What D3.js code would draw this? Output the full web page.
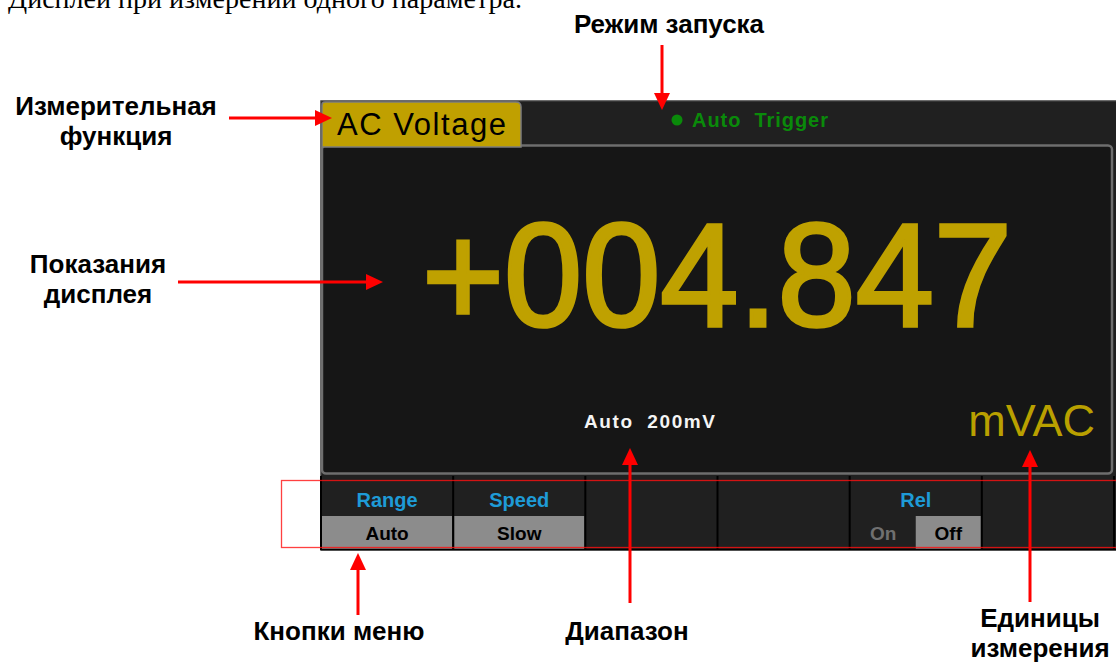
<!DOCTYPE html>
<html>
<head>
<meta charset="utf-8">
<script src="https://cdn.jsdelivr.net/npm/d3@7"></script>
<style>
  body { margin: 0; background: #fff; }
  svg { display: block; }
</style>
</head>
<body>
<script>
// texts shown on the meter screen
const caption = "Дисплей при измерении одного параметра.";
const functionName = "AC Voltage";
const triggerMode = "Auto  Trigger";
const reading = "+004.847";
const rangeText = "Auto  200mV";
const unitText = "mVAC";

// soft-key menu, one entry per button
const menuLabels = ["Range", "Speed", "", "", "Rel", ""];
const menuValues = [["Auto"], ["Slow"], [], [], ["On", "Off"], []];
const menuSelected = [0, 0, -1, -1, 1, -1];

// callouts around the screen
const calloutTexts = [
  ["Режим запуска"],
  ["Измерительная", "функция"],
  ["Показания", "дисплея"],
  ["Кнопки меню"],
  ["Диапазон"],
  ["Единицы", "измерения"]
];

// layout of the callouts (label centre, first baseline, arrow from -> to)
const calloutLayout = [
  { cx: 669, y: 33, from: [662, 45], to: [662, 110] },
  { cx: 116, y: 115, from: [229, 118], to: [332, 118] },
  { cx: 98, y: 273, from: [178, 282], to: [383, 282] },
  { cx: 339, y: 640, from: [358, 615], to: [358, 553] },
  { cx: 627, y: 640, from: [630, 603], to: [630, 448] },
  { cx: 1040, y: 627, from: [1030, 602], to: [1030, 450] }
];

const W = 1116, H = 664;
const gold = "#c0a000";
const sans = "'Liberation Sans', Arial, sans-serif";

const svg = d3.select("body").append("svg")
  .attr("width", W)
  .attr("height", H);

// caption cut off at the top
svg.append("text")
  .attr("x", 8)
  .attr("y", 8)
  .attr("font-family", "'Liberation Serif', 'Times New Roman', serif")
  .attr("font-size", 28)
  .attr("textLength", 514)
  .attr("lengthAdjust", "spacingAndGlyphs")
  .attr("fill", "#000")
  .text(caption);

// screen body
const screen = svg.append("g");
screen.append("rect")
  .attr("x", 321).attr("y", 101)
  .attr("width", W - 321 + 5).attr("height", 449)
  .attr("fill", "#202020")
  .attr("stroke", "#3c3c3c")
  .attr("stroke-width", 1.5);

// main display area
screen.append("rect")
  .attr("x", 322).attr("y", 145.5)
  .attr("width", 790).attr("height", 328)
  .attr("rx", 4)
  .attr("fill", "#161616")
  .attr("stroke", "#6e6e6e")
  .attr("stroke-width", 2.5);

// function tab
screen.append("path")
  .attr("d", "M322,147 L322,105 Q322,102 325,102 L516,102 Q521,102 521,107 L521,147 Z")
  .attr("fill", gold)
  .attr("stroke", "#7c7c7c")
  .attr("stroke-width", 1.5);

screen.append("text")
  .attr("x", 337).attr("y", 135)
  .attr("font-family", sans)
  .attr("font-size", 31)
  .attr("textLength", 169)
  .attr("fill", "#000")
  .text(functionName);

// trigger indicator
screen.append("circle")
  .attr("cx", 677).attr("cy", 120).attr("r", 5.5)
  .attr("fill", "#0a8a0a");
screen.append("text")
  .attr("x", 692).attr("y", 127)
  .attr("font-family", sans)
  .attr("font-weight", "bold")
  .attr("font-size", 20)
  .attr("textLength", 136)
  .attr("fill", "#0a8a0a")
  .style("white-space", "pre")
  .text(triggerMode);

// reading
screen.append("text")
  .attr("x", 717).attr("y", 326)
  .attr("text-anchor", "middle")
  .attr("font-family", sans)
  .attr("font-size", 146)
  .attr("textLength", 590)
  .attr("lengthAdjust", "spacingAndGlyphs")
  .attr("fill", "#bfa100")
  .attr("stroke", "#bfa100")
  .attr("stroke-width", 3.5)
  .text(reading);

screen.append("text")
  .attr("x", 584).attr("y", 428)
  .attr("font-family", sans)
  .attr("font-weight", "bold")
  .attr("font-size", 19)
  .attr("textLength", 131)
  .attr("fill", "#f4f4f4")
  .style("white-space", "pre")
  .text(rangeText);

screen.append("text")
  .attr("x", 1095).attr("y", 436)
  .attr("text-anchor", "end")
  .attr("font-family", sans)
  .attr("font-size", 45)
  .attr("fill", "#b9a000")
  .text(unitText);

// soft-key menu
const xMenu = d3.scaleBand()
  .domain(d3.range(menuLabels.length))
  .range([321, 1114]);
const bw = xMenu.bandwidth();

const keys = screen.append("g")
  .selectAll("g")
  .data(menuLabels.map((label, i) => ({ label, values: menuValues[i], sel: menuSelected[i], i })))
  .join("g")
  .attr("transform", d => `translate(${xMenu(d.i)},0)`);

keys.append("rect")
  .attr("x", 0).attr("y", 475)
  .attr("width", bw).attr("height", 75)
  .attr("fill", "#202020");

keys.each(function (d) {
  const g = d3.select(this);
  const n = d.values.length;
  if (!n) return;
  const xv = d3.scaleBand().domain(d3.range(n)).range([1, bw - 1]);
  d.values.forEach((v, j) => {
    if (j === d.sel) {
      g.append("rect")
        .attr("x", xv(j)).attr("y", 516)
        .attr("width", xv.bandwidth()).attr("height", 33)
        .attr("fill", "#8c8c8c");
    }
    g.append("text")
      .attr("x", xv(j) + xv.bandwidth() / 2).attr("y", 540)
      .attr("text-anchor", "middle")
      .attr("font-family", sans)
      .attr("font-weight", "bold")
      .attr("font-size", 19)
      .attr("fill", j === d.sel ? "#000" : "#707070")
      .text(v);
  });
});

keys.append("text")
  .attr("x", bw / 2).attr("y", 507)
  .attr("text-anchor", "middle")
  .attr("font-family", sans)
  .attr("font-weight", "bold")
  .attr("font-size", 20)
  .attr("fill", "#1e9bd7")
  .text(d => d.label);

// separators between keys
screen.append("g")
  .selectAll("line")
  .data(d3.range(menuLabels.length + 1))
  .join("line")
  .attr("x1", i => i < menuLabels.length ? xMenu(i) : 1114)
  .attr("x2", i => i < menuLabels.length ? xMenu(i) : 1114)
  .attr("y1", 476).attr("y2", 550)
  .attr("stroke", "#000")
  .attr("stroke-width", 2);
screen.append("line")
  .attr("x1", 321).attr("x2", W)
  .attr("y1", 549.5).attr("y2", 549.5)
  .attr("stroke", "#000")
  .attr("stroke-width", 1.5);

// red frame around the menu
svg.append("rect")
  .attr("x", 281.5).attr("y", 480.5)
  .attr("width", 850).attr("height", 67)
  .attr("fill", "none")
  .attr("stroke", "#ff1010")
  .attr("stroke-opacity", 0.8)
  .attr("stroke-width", 1.3);

// callouts
const call = svg.append("g")
  .selectAll("g")
  .data(calloutTexts.map((lines, i) => ({ lines, ...calloutLayout[i] })))
  .join("g");

call.selectAll("text")
  .data(d => d.lines.map((t, k) => ({ t, x: d.cx, y: d.y + k * 30 })))
  .join("text")
  .attr("x", d => d.x).attr("y", d => d.y)
  .attr("text-anchor", "middle")
  .attr("font-family", sans)
  .attr("font-weight", "bold")
  .attr("font-size", 26)
  .attr("fill", "#000")
  .text(d => d.t);

call.each(function (d) {
  const g = d3.select(this);
  const [x1, y1] = d.from, [x2, y2] = d.to;
  const len = Math.hypot(x2 - x1, y2 - y1);
  const ux = (x2 - x1) / len, uy = (y2 - y1) / len;
  const hl = 17, hw = 8;
  const bx = x2 - ux * hl, by = y2 - uy * hl;
  g.append("line")
    .attr("x1", x1).attr("y1", y1)
    .attr("x2", bx + ux).attr("y2", by + uy)
    .attr("stroke", "#ff0000")
    .attr("stroke-width", 3);
  g.append("path")
    .attr("d", `M${x2},${y2} L${bx - uy * hw},${by + ux * hw} L${bx + uy * hw},${by - ux * hw} Z`)
    .attr("fill", "#ff0000");
});
</script>
</body>
</html>
